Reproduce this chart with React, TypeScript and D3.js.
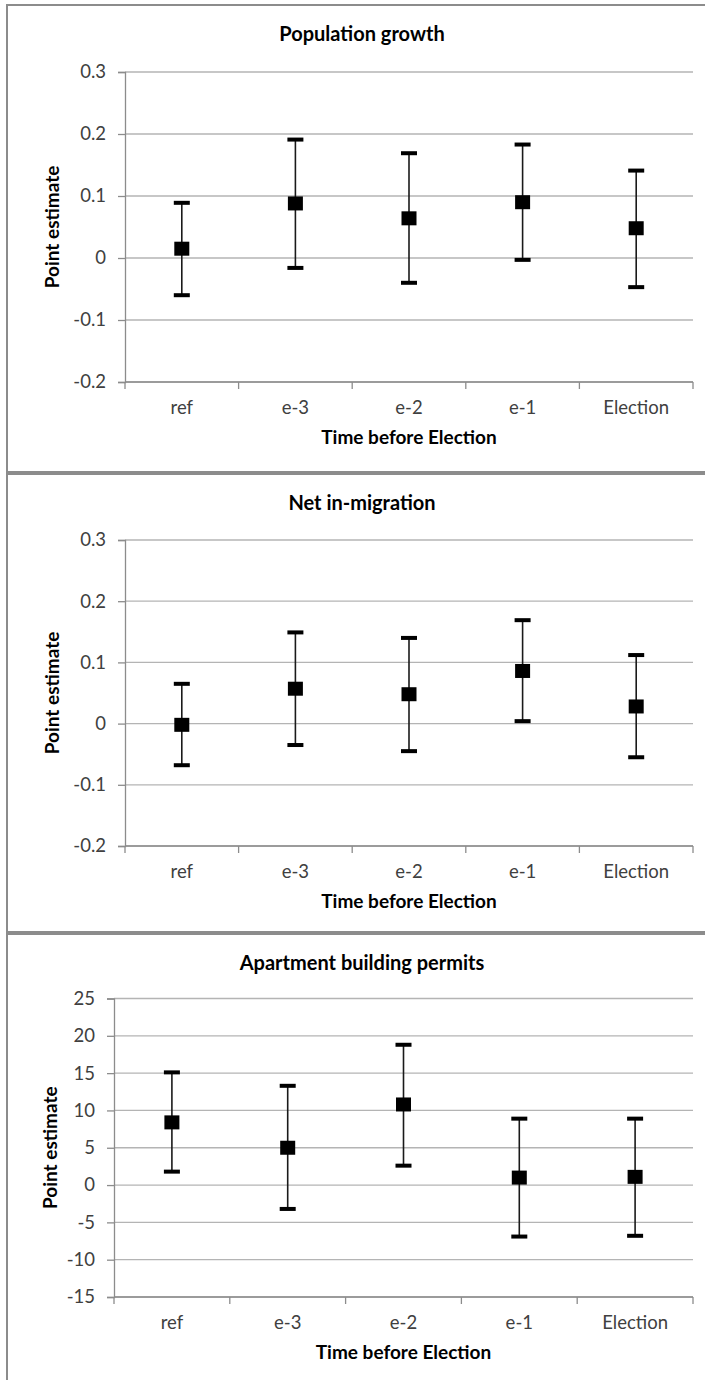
import React, { useEffect, useRef } from 'react'
import * as d3 from 'd3'

const categories = ['ref', 'e-3', 'e-2', 'e-1', 'Election']

const popEst = [0.015, 0.088, 0.064, 0.09, 0.048]
const popLow = [-0.06, -0.016, -0.04, -0.003, -0.047]
const popHigh = [0.089, 0.191, 0.169, 0.183, 0.141]

const migEst = [-0.002, 0.057, 0.048, 0.086, 0.028]
const migLow = [-0.068, -0.035, -0.045, 0.004, -0.055]
const migHigh = [0.065, 0.149, 0.14, 0.169, 0.112]

const aptEst = [8.4, 5.0, 10.8, 1.0, 1.1]
const aptLow = [1.8, -3.2, 2.6, -6.9, -6.8]
const aptHigh = [15.1, 13.3, 18.8, 8.9, 8.9]

const fracTicks = [-0.2, -0.1, 0, 0.1, 0.2, 0.3]
const permitTicks = [-15, -10, -5, 0, 5, 10, 15, 20, 25]

const FONT = "Lato, 'Open Sans', sans-serif"

const panels = [
    { title: 'Population growth', est: popEst, low: popLow, high: popHigh, ticks: fracTicks, fmt: (d: number) => `${+d.toFixed(1)}`,
      top: 5, bottom: 472, x0: 125, x1: 693, y0: 72, y1: 382, ytx: 52 },
    { title: 'Net in-migration', est: migEst, low: migLow, high: migHigh, ticks: fracTicks, fmt: (d: number) => `${+d.toFixed(1)}`,
      top: 474, bottom: 932, x0: 125, x1: 693, y0: 540, y1: 846, ytx: 52 },
    { title: 'Apartment building permits', est: aptEst, low: aptLow, high: aptHigh, ticks: permitTicks, fmt: (d: number) => `${d}`,
      top: 934, bottom: 1400, x0: 114, x1: 693, y0: 998.5, y1: 1297, ytx: 50 },
]

export default function App() {
    const ref = useRef<SVGSVGElement>(null)

    useEffect(() => {
        const svg = d3.select(ref.current)
        svg.selectAll('*').remove()

        panels.forEach(p => {
            const g = svg.append('g')
            // frame of each pasted chart
            g.append('rect').attr('x', 7).attr('y', p.top).attr('width', 730).attr('height', p.bottom - p.top)
                .attr('fill', '#fff').attr('stroke', '#8c8c8c').attr('stroke-width', 2)

            const x = d3.scaleBand().domain(categories).range([p.x0, p.x1])
            const y = d3.scaleLinear().domain(d3.extent(p.ticks) as [number, number]).range([p.y1, p.y0])
            const cx = (c: string) => (x(c) ?? 0) + x.bandwidth() / 2

            // gridlines
            g.append('g').selectAll('line').data(p.ticks).join('line')
                .attr('x1', p.x0).attr('x2', p.x1).attr('y1', d => y(d)).attr('y2', d => y(d))
                .attr('stroke', '#b4b4b4').attr('stroke-width', 1.3)

            const ay = d3.axisLeft(y).tickValues(p.ticks).tickSize(7).tickPadding(12).tickFormat(d => p.fmt(+d))
            const gy = g.append('g').attr('transform', `translate(${p.x0},0)`).call(ay)
            gy.select('.domain').attr('stroke', '#8c8c8c').attr('stroke-width', 1.3)
            gy.selectAll('.tick line').attr('stroke', '#8c8c8c').attr('stroke-width', 1.3)
            gy.selectAll('.tick text').attr('font-family', FONT).attr('font-size', 18.5).attr('fill', '#404040')

            // x axis with ticks between categories
            const bounds = categories.map(c => x(c) ?? 0).concat([p.x1])
            g.append('line').attr('x1', p.x0).attr('x2', p.x1).attr('y1', p.y1).attr('y2', p.y1)
                .attr('stroke', '#8c8c8c').attr('stroke-width', 1.3)
            g.append('g').selectAll('line').data(bounds).join('line')
                .attr('x1', d => d).attr('x2', d => d).attr('y1', p.y1).attr('y2', p.y1 + 7)
                .attr('stroke', '#8c8c8c').attr('stroke-width', 1.3)
            g.append('g').selectAll('text').data(categories).join('text')
                .attr('x', d => cx(d)).attr('y', p.y1 + 32).attr('text-anchor', 'middle')
                .attr('font-family', FONT).attr('font-size', 18.5).attr('fill', '#404040').text(d => d)

            // titles
            g.append('text').attr('x', 362).attr('y', p.top + 36).attr('text-anchor', 'middle')
                .attr('font-family', FONT).attr('font-weight', 'bold').attr('font-size', 20).text(p.title)
            g.append('text').attr('x', (p.x0 + p.x1) / 2).attr('y', p.y1 + 62).attr('text-anchor', 'middle')
                .attr('font-family', FONT).attr('font-weight', 'bold').attr('font-size', 19).text('Time before Election')
            g.append('text').attr('transform', `translate(${p.ytx + 7},${(p.y0 + p.y1) / 2}) rotate(-90)`)
                .attr('text-anchor', 'middle').attr('font-family', FONT).attr('font-weight', 'bold').attr('font-size', 19)
                .text('Point estimate')

            // error bars and markers
            const rows = categories.map((c, i) => ({ c, est: p.est[i], lo: p.low[i], hi: p.high[i] }))
            const bars = g.append('g').selectAll('g').data(rows).join('g')
            bars.append('line').attr('x1', d => cx(d.c)).attr('x2', d => cx(d.c))
                .attr('y1', d => y(d.lo)).attr('y2', d => y(d.hi)).attr('stroke', '#1a1a1a').attr('stroke-width', 1.6)
            bars.append('rect').attr('x', d => cx(d.c) - 8).attr('y', d => y(d.hi) - 2).attr('width', 16).attr('height', 4).attr('fill', '#000')
            bars.append('rect').attr('x', d => cx(d.c) - 8).attr('y', d => y(d.lo) - 2).attr('width', 16).attr('height', 4).attr('fill', '#000')
            bars.append('rect').attr('x', d => cx(d.c) - 7.5).attr('y', d => y(d.est) - 7).attr('width', 15).attr('height', 14).attr('fill', '#000')
        })
    }, [])

    return <svg ref={ref} width={705} height={1380} style={{ position: 'absolute', left: 0, top: 0, background: '#fff' }} />
}
